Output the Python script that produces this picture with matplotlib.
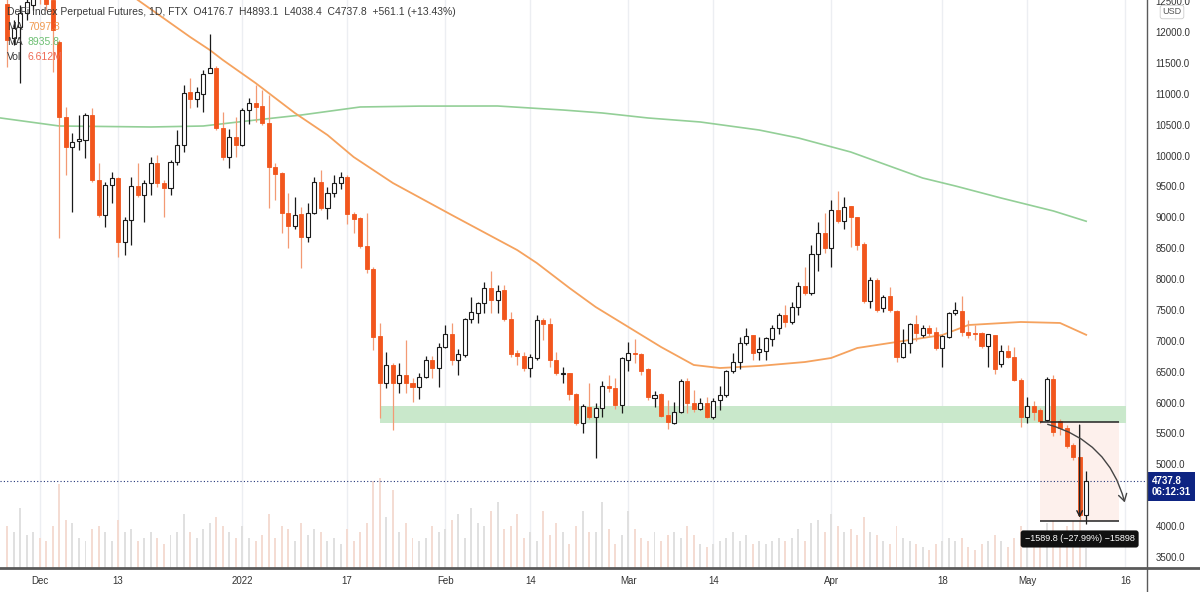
import numpy as np
import matplotlib.pyplot as plt
from matplotlib.patches import FancyArrowPatch
from matplotlib.transforms import blended_transform_factory

plt.rcParams['font.family'] = ['Liberation Sans', 'DejaVu Sans']

# Daily candles, index 0 = 26 Nov 2021 ... index 165 = 10 May 2022
opens = [12450, 11903, 12081, 12308, 12437, 12650, 12600, 12518, 11838, 10624,
         10138, 10240, 10252, 10656, 9604, 9037, 9523, 9636, 8600, 8956,
         9507, 9361, 9555, 9879, 9555, 9474, 9895, 10171, 11028, 10915,
         10996, 11336, 11417, 10446, 9976, 10300, 10171, 10737, 10851, 10802,
         10527, 9814, 9717, 9070, 8859, 9053, 8681, 9070, 9572, 9150,
         9393, 9555, 9652, 9053, 8988, 8535, 8163, 7078, 6317, 6609,
         6317, 6447, 6317, 6253, 6414, 6690, 6560, 6900, 7111, 6690,
         6770, 7354, 7451, 7612, 7855, 7661, 7823, 7354, 6803, 6754,
         6560, 6722, 7338, 7273, 6690, 6463, 6479, 6139, 5670, 5929,
         5767, 5913, 6269, 6236, 5961, 6690, 6803, 6787, 6544, 6075,
         6139, 5800, 5670, 5848, 6350, 5993, 5896, 5993, 5767, 6042,
         6123, 6512, 6657, 6965, 7094, 6819, 6835, 7029, 7208, 7418,
         7305, 7548, 7888, 7774, 8406, 8746, 8503, 9118, 8940, 9183,
         9005, 8567, 7645, 7985, 7532, 7726, 7483, 6738, 6965, 7273,
         7094, 7208, 7143, 6884, 7062, 7451, 7483, 7143, 7120, 7127,
         6916, 7094, 6625, 6835, 6738, 6366, 5767, 5945, 5880, 5718,
         6382, 5702, 5589, 5314, 5119, 4176.7]
highs = [12550, 12194, 12437, 12600, 12680, 12750, 12700, 12600, 11870, 10786,
         10365, 10656, 10688, 10770, 9879, 9572, 9733, 9652, 9005, 9652,
         9879, 9604, 9976, 10008, 9604, 9927, 10413, 11142, 11255, 11109,
         11385, 11967, 11450, 10705, 10430, 10624, 10770, 10931, 11142, 11061,
         10980, 9879, 9733, 9394, 9329, 9167, 9231, 9652, 9766, 9491,
         9685, 9733, 9685, 9086, 9005, 9070, 8200, 7289, 6819, 6640,
         6641, 7013, 6398, 6479, 6754, 6754, 6964, 7256, 7289, 6868,
         7370, 7710, 7629, 7953, 8131, 7904, 7904, 7467, 6852, 6819,
         6787, 7418, 7370, 7370, 6819, 6576, 6479, 6160, 5977, 6317,
         5993, 6350, 6447, 6398, 6738, 6981, 7029, 6803, 6560, 6188,
         6156, 6042, 6010, 6382, 6398, 6204, 6075, 6091, 6075, 6269,
         6528, 6803, 7062, 7208, 7094, 7062, 7062, 7256, 7451, 7580,
         7629, 7953, 8195, 8551, 8924, 9070, 9280, 9426, 9329, 9183,
         9005, 8600, 8033, 8017, 7742, 7872, 7499, 7192, 7289, 7418,
         7256, 7256, 7224, 7094, 7467, 7629, 7726, 7338, 7256, 7143,
         7111, 7100, 6933, 6933, 6900, 6398, 6091, 6026, 5913, 6414,
         6446, 5735, 5637, 5346, 5119, 4893.1]
lows = [11433, 11789, 11174, 12194, 12356, 12450, 12350, 11352, 8665, 9685,
        9086, 10090, 9960, 9572, 9005, 8843, 9231, 8357, 8390, 8551,
        9329, 8924, 9361, 9491, 9005, 9361, 9847, 10057, 10770, 10786,
        10705, 11336, 10413, 9927, 9798, 9976, 10154, 10510, 10543, 10494,
        9150, 9280, 8746, 8503, 8810, 8179, 8600, 9053, 9118, 8972,
        9329, 9458, 8891, 8746, 8503, 8098, 6852, 5751, 6236, 5557,
        6156, 6156, 6010, 6058, 6398, 6398, 6253, 6884, 6609, 6447,
        6738, 7289, 7289, 7451, 7451, 7451, 7321, 6738, 6609, 6512,
        6414, 6690, 7013, 6576, 6447, 6317, 6042, 5640, 5508, 5735,
        5103, 5767, 6171, 5896, 5832, 6512, 6641, 6447, 6042, 5929,
        5767, 5573, 5654, 5832, 5832, 5848, 5880, 5751, 5735, 5880,
        6091, 6479, 6544, 6933, 6690, 6690, 6690, 6916, 7111, 7224,
        7273, 7418, 7742, 7742, 8130, 8422, 8195, 8908, 8810, 8519,
        8470, 7612, 7532, 7467, 7467, 7467, 6657, 6722, 6803, 6997,
        7062, 7078, 6852, 6576, 7046, 7418, 7078, 7046, 7013, 6884,
        6576, 6463, 6576, 6722, 6350, 5605, 5670, 5718, 5670, 5700,
        5460, 5476, 5265, 5071, 4099, 4038.4]
closes = [11870, 12065, 12308, 12486, 12600, 12550, 12450, 12032, 10624, 10138,
          10219, 10260, 10656, 9604, 9037, 9523, 9636, 8600, 8956, 9507,
          9361, 9555, 9879, 9555, 9474, 9895, 10171, 11012, 10915, 11028,
          11320, 11417, 10446, 9976, 10300, 10171, 10737, 10851, 10786, 10527,
          9814, 9701, 9070, 8859, 9037, 8681, 9070, 9572, 9150, 9393,
          9555, 9652, 9053, 8972, 8535, 8163, 7062, 6317, 6609, 6317,
          6447, 6317, 6253, 6414, 6690, 6560, 6900, 7111, 6690, 6787,
          7354, 7467, 7612, 7855, 7661, 7807, 7354, 6787, 6754, 6560,
          6738, 7338, 7273, 6690, 6479, 6479, 6139, 5670, 5945, 5767,
          5913, 6269, 6236, 5961, 6722, 6803, 6787, 6512, 6091, 6123,
          5783, 5686, 5848, 6350, 5993, 5896, 5993, 5767, 6026, 6123,
          6512, 6657, 6964, 7078, 6803, 6868, 7046, 7208, 7418, 7305,
          7548, 7888, 7774, 8406, 8746, 8503, 9118, 8940, 9167, 9005,
          8551, 7645, 7985, 7499, 7710, 7499, 6738, 6965, 7273, 7127,
          7208, 7127, 6884, 7078, 7451, 7499, 7143, 7094, 7110, 6916,
          7111, 6544, 6835, 6738, 6366, 5767, 5945, 5848, 5702, 6382,
          5524, 5589, 5298, 5119, 4176.7, 4737.8]
# volume, millions
volumes = [14, 12, 20, 11, 12, 10, 9, 14, 28,
           16, 15, 10, 9, 13, 14, 12, 9, 16, 12, 13, 9, 10, 12, 10, 8, 11, 12, 18, 12, 10,
           13, 15, 17, 14, 12, 10, 14, 10, 9, 11, 18, 10, 14, 13, 9, 15, 11, 13, 12, 9,
           10, 8, 13, 9, 12, 15, 29,
           30, 17, 26, 12, 15, 10, 9, 10, 14, 12, 13, 16, 18, 10, 20, 15, 14, 19, 22, 13,
           14, 18, 10, 12, 9, 19, 11, 15, 12, 8,
           14, 19, 12, 12, 22, 13, 8, 11, 19, 13, 10, 9, 12, 9, 11, 12, 10, 14, 11, 8,
           7, 8, 9, 10, 12, 9, 11, 8, 9,
           8, 9, 10, 9, 10, 13, 9, 15, 16, 12, 18, 14, 12, 13, 11, 17, 12, 11, 9, 8,
           14, 10, 9, 8, 7, 6, 8,
           9, 10, 9, 10, 7, 6, 8, 9, 11, 9, 7, 10, 14, 11, 8, 9, 15, 17, 12, 14,
           16, 28, 6.612]

# moving averages (day index, value)
ma_fast_idx = [16, 20, 28, 31, 33, 38, 44, 49, 53, 59, 68, 78, 81, 86, 90, 95, 100,
               105, 109, 115, 122, 126, 130, 136, 143, 147, 155, 161, 165]
ma_fast_val = [12850, 12518, 11919, 11709, 11547, 11174, 10689, 10332, 9976, 9555,
               9037, 8470, 8260, 7855, 7548, 7224, 6900, 6609, 6560, 6593, 6657,
               6722, 6884, 6981, 7094, 7256, 7305, 7289, 7097]
ma_slow_idx = [-1, 8, 22, 30, 38, 45, 54, 63, 75, 85, 91, 98, 106, 115, 121, 129,
               140, 145, 152, 160, 165]
ma_slow_val = [10608, 10478, 10462, 10478, 10575, 10656, 10786, 10800, 10802, 10737,
               10689, 10608, 10543, 10413, 10284, 10057, 9636, 9507, 9312, 9102, 8936]

tick_idx = [5, 17, 36, 52, 67, 80, 95, 108, 126, 143, 156, 171]
tick_lab = ["Dec", "13", "2022", "17", "Feb", "14", "Mar", "14", "Apr", "18", "May", "16"]
price_ticks = np.arange(3500, 12501, 500)

# support zone and price-range measurement
zone_start, zone_end = 57.1, 171.1
zone_low, zone_high = 5675, 5950
meas_start, meas_end, meas_mid = 158.0, 170.0, 164.0
meas_top, meas_bottom = 5679.8, 4090.0
meas_text = "\u22121589.8 (\u221227.99%) \u221215898"

UP_EDGE = '#1a1a1a'
DOWN = '#f2561d'
DOWN_WICK = '#f39a74'

W, H = 1200, 592
fig = plt.figure(figsize=(W / 100, H / 100), dpi=100)
rect = [0, 24 / H, 1147 / W, 568 / H]
axv = fig.add_axes(rect)
ax = fig.add_axes(rect, sharex=axv)
ax.patch.set_visible(False)

x = np.arange(len(closes))
o = np.array(opens)
c = np.array(closes)
up = c >= o

# volume
vcol = np.where(up, '#e0e0e0', '#f4dcd3')
axv.bar(x, volumes, width=0.3, color=vcol, zorder=1)
axv.set_ylim(0, 568 / 3.0)
axv.set_yticks([])
for s in axv.spines.values():
    s.set_visible(False)
axv.grid(axis='x', color='#eceef2', lw=1)
axv.set_axisbelow(True)

# zone and measure box
ax.fill_between([zone_start, zone_end], zone_low, zone_high, color='#c9e8cb', lw=0, zorder=1)
ax.fill_between([meas_start, meas_end], meas_bottom, meas_top, color='#fdf0ec', lw=0, zorder=1)

# moving averages
ax.plot(ma_slow_idx, ma_slow_val, color='#93cf97', lw=1.2, zorder=2)
ax.plot(ma_fast_idx, ma_fast_val, color='#f5a25e', lw=1.3, zorder=2)

# candles
hi = np.array(highs)
lo = np.array(lows)
ax.vlines(x[up], lo[up], hi[up], color=UP_EDGE, lw=0.9, zorder=3)
ax.vlines(x[~up], lo[~up], hi[~up], color=DOWN_WICK, lw=0.9, zorder=3)
bottom = np.minimum(o, c)
height = np.maximum(np.abs(c - o), 15)
ax.bar(x[up], height[up], bottom=bottom[up], width=0.62, facecolor='white',
       edgecolor=UP_EDGE, lw=0.8, zorder=4)
ax.bar(x[~up], height[~up], bottom=bottom[~up], width=0.62, facecolor=DOWN,
       edgecolor=DOWN, lw=0.6, zorder=4)

# last price line
ax.axhline(closes[-1], color='#23357a', lw=0.8, ls=(0, (1, 2)), zorder=2)

# measure lines
ax.hlines([meas_top, meas_bottom], meas_start, meas_end, color='#222', lw=1.1, zorder=5)
ax.annotate('', xy=(meas_mid, meas_bottom), xytext=(meas_mid, meas_top),
            arrowprops=dict(arrowstyle='->', color='#222', lw=1.0), zorder=5)
ax.add_patch(FancyArrowPatch((meas_start + 0.7, meas_top - 20), (meas_end + 1.0, 4340),
                             connectionstyle='arc3,rad=-0.3', arrowstyle='->,head_length=5,head_width=3',
                             color='#444', lw=1.0, zorder=5))
ax.text(meas_mid, 3792, meas_text, ha='center', va='center', color='white', fontsize=6.5,
        zorder=6, bbox=dict(boxstyle='round,pad=0.45,rounding_size=0.3', fc='#111', ec='none'))

ax.set_xlim(-1.07, 174.3)
ax.set_ylim(3322, 12518)
ax.set_xticks(tick_idx)
ax.set_xticklabels(tick_lab)
ax.yaxis.tick_right()
ax.set_yticks(price_ticks)
# 4500 sits under the last-price badge, so its label is not shown
ax.set_yticklabels([f"{v:.1f}" if v != 4500 else "" for v in price_ticks])
ax.tick_params(axis='y', length=0, pad=6, labelsize=7, labelcolor='#333')
ax.tick_params(axis='x', length=0, pad=6, labelsize=7, labelcolor='#333')
axv.tick_params(axis='x', length=0, labelbottom=False)
for s in ax.spines.values():
    s.set_visible(False)

# price label on axis
tr = blended_transform_factory(ax.transAxes, ax.transData)
ax.annotate("4737.8\n06:12:31", xy=(1.0, closes[-1]), xycoords=tr, xytext=(5, -6),
            textcoords='offset pixels', ha='left', va='center', color='white', fontsize=7,
            fontweight='bold', linespacing=1.05, annotation_clip=False,
            bbox=dict(boxstyle='square,pad=0.4', fc='#0e2482', ec='none'))

# separators
fig.add_artist(plt.Line2D([0, 1], [1 - 568 / H] * 2, color='#5a5a5a', lw=2))
fig.add_artist(plt.Line2D([1147 / W] * 2, [0, 1], color='#5a5a5a', lw=1))

fig.text(1172 / W, 1 - 12 / H, "USD", ha='center', va='center', fontsize=6.5, color='#555',
         bbox=dict(boxstyle='round,pad=0.25', fc='white', ec='#cccccc', lw=0.6))

# legend header
fig.text(7 / W, 1 - 12 / H,
         "DeFi Index Perpetual Futures, 1D, FTX  O4176.7  H4893.1  L4038.4  C4737.8  +561.1 (+13.43%)",
         ha='left', va='center', fontsize=7.5, color='#3a3a3a')
rows = [("MA", "7097.3", '#f09a50'), ("MA", "8935.8", '#6cbf72'), ("Vol", "6.612M", '#ef6a55')]
for k, (lab, val, col) in enumerate(rows):
    yy = 1 - (27 + 15 * k) / H
    fig.text(7 / W, yy, lab, ha='left', va='center', fontsize=7.5, color='#3a3a3a')
    fig.text(28 / W, yy, val, ha='left', va='center', fontsize=7.5, color=col)

fig.savefig('out.png', dpi=100)
